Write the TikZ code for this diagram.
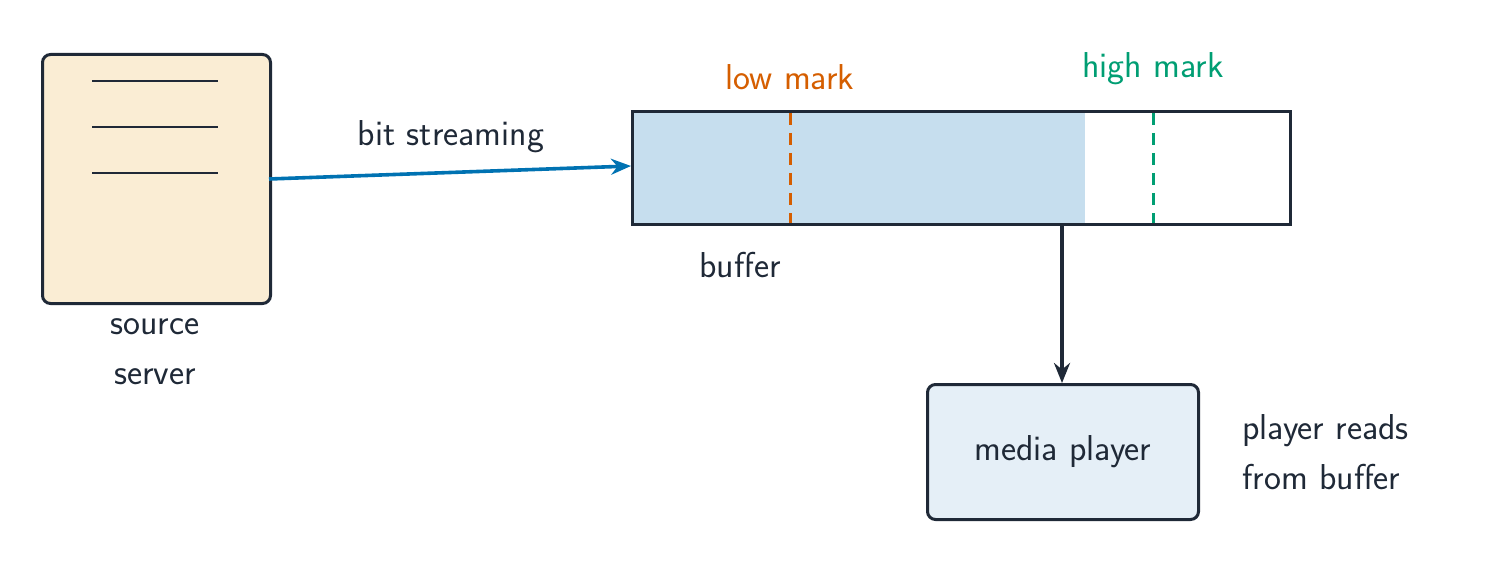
\documentclass[tikz,border=0pt]{standalone}
\usetikzlibrary{arrows.meta}
\definecolor{ink}{HTML}{1F2937}
\definecolor{srvfill}{HTML}{FAEDD4}
\definecolor{buffill}{HTML}{C6DEEE}
\definecolor{plfill}{HTML}{E5EFF7}
\definecolor{lowc}{HTML}{D55E00}
\definecolor{highc}{HTML}{009E73}
\definecolor{streamc}{HTML}{0072B2}
\begin{document}
\begin{tikzpicture}[x=0.5pt,y=-0.5pt,
  lbl/.style={font=\sffamily\fontsize{18}{25}\selectfont,text=ink,inner sep=0pt},
  box/.style={draw=ink,line width=1.5pt,rounded corners=4pt},
  arr/.style={-{Stealth[length=10pt,width=8pt]},line width=1.8pt}]
\useasboundingbox (0,0) rectangle (1491,561);
% server
\node[box,fill=srvfill,minimum width=114pt,minimum height=124.5pt,anchor=north west] (srv) at (41,53) {};
\foreach \yy in {81,127,173} \draw[ink,line width=1.2pt] (92,\yy) -- (218,\yy);
\node[lbl,align=center] (srvl) at (155,352) {source\\server};
% buffer
\fill[buffill] (631,110) rectangle (1085,223);
\node[draw=ink,line width=1.5pt,minimum width=329pt,minimum height=56.5pt,anchor=north west,inner sep=0pt] (buf) at (631,110) {};
\draw[lowc,dashed,line width=1.5pt,dash pattern=on 6pt off 4pt] (790,113) -- (790,223);
\draw[highc,dashed,line width=1.5pt,dash pattern=on 6pt off 4pt] (1153,113) -- (1153,223);
\node[lbl,text=lowc] (lowl) at (790,77) {low mark};
\node[lbl,text=highc] (highl) at (1153,69) {high mark};
\node[lbl] (bufl) at (740,265) {buffer};
% stream
\coordinate (s1) at (269,179);
\coordinate (b1) at (631,166);
\draw[arr,streamc] (s1) -- (b1);
\node[lbl] (bitl) at (451,137) {bit streaming};
% player
\node[box,fill=plfill,minimum width=135.5pt,minimum height=67.5pt,anchor=north west] (pl) at (926,383) {};
\node[lbl] at (pl.center) {media player};
\coordinate (b2) at (1062,223);
\draw[arr,ink] (b2) -- (pl.north -| b2);
\node[lbl,align=left,anchor=west] (rdl) at (1242,452) {player reads\\from buffer};
\end{tikzpicture}
\end{document}
